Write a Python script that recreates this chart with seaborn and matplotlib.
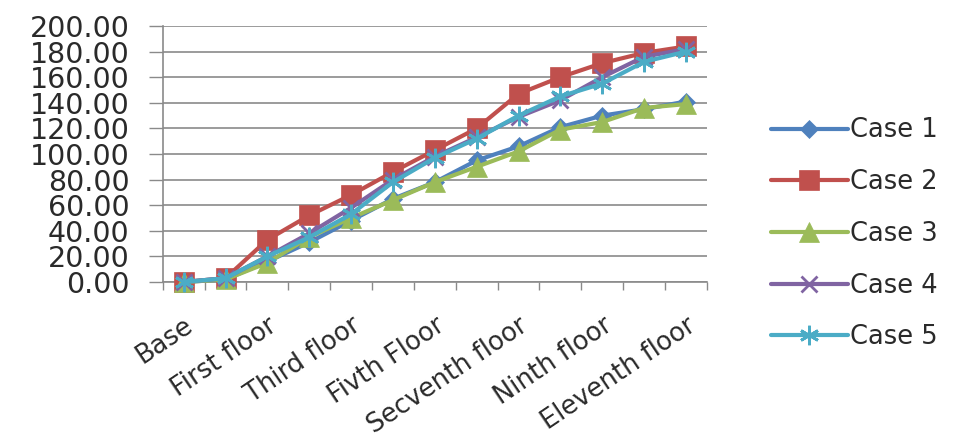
import matplotlib
matplotlib.use("Agg")
import matplotlib.pyplot as plt
import seaborn as sns
import pandas as pd
from matplotlib.ticker import FixedLocator, FormatStrFormatter

# Storey levels (every other one is labelled on the axis)
floors = ["Base", "Ground floor", "First floor", "Second floor", "Third floor",
          "Fourth floor", "Fivth Floor", "Sixth floor", "Secventh floor",
          "Eighth floor", "Ninth floor", "Tenth floor", "Eleventh floor"]

case1 = [0, 2, 16, 31, 48, 65, 78, 95, 106, 121, 130, 135, 141]
case2 = [0, 3, 33, 52, 68, 86, 103, 120, 147, 160, 171, 179, 184]
case3 = [0, 2, 15, 35, 50, 64, 78, 90, 102, 119, 125, 136, 139]
case4 = [0, 3, 20, 38, 58, 80, 98, 113, 129, 142, 160, 176, 182]
case5 = [0, 3, 20, 35, 53, 78, 97, 112, 130, 145, 155, 172, 180]

series_names = ["Case 1", "Case 2", "Case 3", "Case 4", "Case 5"]
series_values = [case1, case2, case3, case4, case5]
y_ticks = [0, 20, 40, 60, 80, 100, 120, 140, 160, 180, 200]

colors = ["#4F81BD", "#C0504D", "#9BBB59", "#8064A2", "#4BACC6"]
markers = ["D", "s", "^", "x", (6, 2, 0)]
msizes = [9, 15, 14, 12, 14]

rows = []
for name, vals in zip(series_names, series_values):
    for i, v in enumerate(vals):
        rows.append({"pos": i, "value": v, "Case": name})
df = pd.DataFrame(rows)

sns.set_theme(style="white")
plt.rcParams["font.family"] = ["DejaVu Sans"]

fig = plt.figure(figsize=(9.63, 4.43), dpi=100)
ax = fig.add_axes([0.169, 0.3634, 0.565, 0.5779])

for name, col, mk, ms in zip(series_names, colors, markers, msizes):
    sub = df[df["Case"] == name]
    sns.lineplot(data=sub, x="pos", y="value", ax=ax, color=col, lw=3,
                 marker=mk, markersize=ms,
                 markeredgewidth=2 if mk in ("x", (6, 2, 0)) else 0.5,
                 markeredgecolor=col, label=name, clip_on=False, zorder=3)

ax.set_xlim(-0.5, len(floors) - 0.5)
ax.set_ylim(0, 200)
ax.yaxis.set_major_locator(FixedLocator(y_ticks))
ax.yaxis.set_major_formatter(FormatStrFormatter("%.2f"))
ax.grid(axis="y", color="#8a8a8a", lw=1.2)
ax.set_axisbelow(True)

label_pos = list(range(0, len(floors), 2))
ax.set_xticks(label_pos)
ax.set_xticklabels([floors[i] for i in label_pos], rotation=34, ha="right",
                   rotation_mode="anchor", fontsize=18.5, color="#2a2a2a")
ax.set_xticks([i - 0.5 for i in range(len(floors) + 1)], minor=True)
ax.tick_params(axis="x", which="major", length=0, pad=22)
ax.tick_params(axis="x", which="minor", length=6, width=1, color="#8a8a8a",
               direction="out", bottom=True)
ax.tick_params(axis="y", length=10, width=1, color="#8a8a8a", direction="out",
               left=True, labelsize=20.5, labelcolor="#2a2a2a", pad=14)

ax.set_xlabel("")
ax.set_ylabel("")
for side in ("top", "right"):
    ax.spines[side].set_visible(False)
for side in ("left", "bottom"):
    ax.spines[side].set_color("#8a8a8a")
    ax.spines[side].set_linewidth(1.2)

handles, labels = ax.get_legend_handles_labels()
ax.legend(handles, labels, loc="center left", bbox_to_anchor=(1.075, 0.188),
          frameon=False, fontsize=18.5, handlelength=3.0, handletextpad=0.1,
          labelspacing=1.0, labelcolor="#2a2a2a")

fig.savefig("out.png", dpi=100)
